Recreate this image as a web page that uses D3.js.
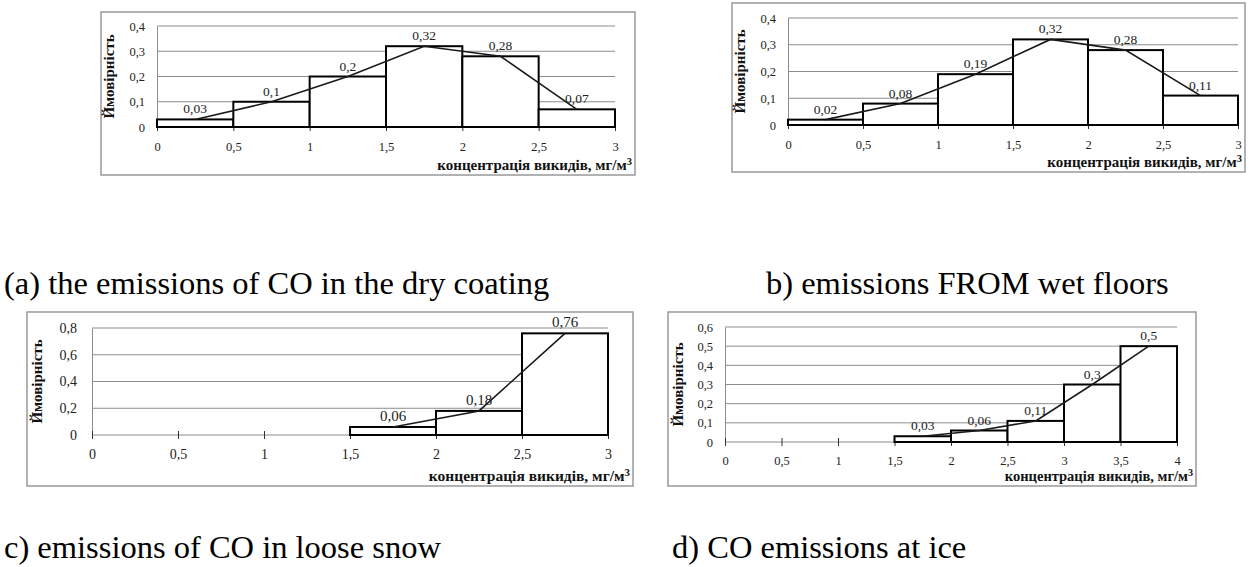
<!DOCTYPE html>
<html>
<head>
<meta charset="utf-8">
<script src="https://cdn.jsdelivr.net/npm/d3@7"></script>
<style>
  body { margin: 0; background: #fff; }
  svg text { font-family: "Liberation Serif", "Times New Roman", "DejaVu Serif", serif; }
</style>
</head>
<body>
<svg id="page" width="1258" height="567"></svg>
<script>

// bin starts (width 0.5) and probabilities
var binsA = [0, 0.5, 1, 1.5, 2, 2.5];
var probA = [0.03, 0.1, 0.2, 0.32, 0.28, 0.07];
var binsB = [0, 0.5, 1, 1.5, 2, 2.5];
var probB = [0.02, 0.08, 0.19, 0.32, 0.28, 0.11];
var binsC = [1.5, 2, 2.5];
var probC = [0.06, 0.18, 0.76];
var binsD = [1.5, 2, 2.5, 3, 3.5];
var probD = [0.03, 0.06, 0.11, 0.3, 0.5];

var xTicks3 = [0, 0.5, 1, 1.5, 2, 2.5, 3];
var xTicks4 = [0, 0.5, 1, 1.5, 2, 2.5, 3, 3.5, 4];
var yTicks04 = [0, 0.1, 0.2, 0.3, 0.4];
var yTicks08 = [0, 0.2, 0.4, 0.6, 0.8];
var yTicks06 = [0, 0.1, 0.2, 0.3, 0.4, 0.5, 0.6];

var captions = [
  "(a) the emissions of CO in the dry coating",
  "b) emissions FROM wet floors",
  "c) emissions of CO in loose snow",
  "d) CO emissions at ice"
];

var binWidth = 0.5;
var yTitle = "Ймовірність";
var xTitle = "концентрація викидів, мг/м";

var svg = d3.select("#page");

function comma(v) { return String(v).replace(".", ","); }

function drawHist(c) {
    var g = svg.append("g");

    // frame
    g.append("rect")
        .attr("x", c.frame[0]).attr("y", c.frame[1])
        .attr("width", c.frame[2] - c.frame[0])
        .attr("height", c.frame[3] - c.frame[1])
        .attr("fill", "none")
        .attr("stroke", "#999")
        .attr("stroke-width", 1.5);

    var xScale = d3.scaleLinear().domain(c.xDomain).range([c.plot[0], c.plot[2]]);
    var yScale = d3.scaleLinear().domain(c.yDomain).range([c.plot[3], c.plot[1]]);

    // grid lines
    g.selectAll(".grid").data(c.yTicks.slice(1)).enter()
        .append("line")
        .attr("x1", c.plot[0]).attr("x2", c.plot[2])
        .attr("y1", function(d){ return yScale(d); })
        .attr("y2", function(d){ return yScale(d); })
        .attr("stroke", "#8c8c8c").attr("stroke-width", 1);

    // axes
    var yAxis = d3.axisLeft(yScale).tickValues(c.yTicks).tickSize(0)
        .tickPadding(c.yPad).tickFormat(comma);
    var ya = g.append("g").attr("transform", "translate(" + c.plot[0] + ",0)").call(yAxis);
    ya.select(".domain").attr("stroke", "#8c8c8c");

    var xAxis = d3.axisBottom(xScale).tickValues(c.xTicks).tickSize(4)
        .tickPadding(c.xPad).tickFormat(comma);
    var xa = g.append("g").attr("transform", "translate(0," + c.plot[3] + ")").call(xAxis);
    xa.select(".domain").attr("stroke", "#8c8c8c").attr("d",
        "M" + c.plot[0] + ",0H" + c.plot[2]);
    xa.selectAll(".tick line").attr("y1", -4).attr("stroke", "#333");

    ya.attr("font-family", null);
    xa.attr("font-family", null);
    g.selectAll(".tick text")
        .attr("font-size", c.tickSize)
        .attr("fill", "#222");

    // bars
    g.selectAll(".bar").data(c.probs).enter()
        .append("rect")
        .attr("x", function(d, i){ return xScale(c.bins[i]); })
        .attr("y", function(d){ return yScale(d); })
        .attr("width", function(d, i){ return xScale(c.bins[i] + binWidth) - xScale(c.bins[i]); })
        .attr("height", function(d){ return yScale(0) - yScale(d); })
        .attr("fill", "#fff")
        .attr("stroke", "#000")
        .attr("stroke-width", 2);

    // polygon through bin midpoints
    var line = d3.line()
        .x(function(d, i){ return xScale(c.bins[i] + binWidth / 2); })
        .y(function(d){ return yScale(d); });
    g.append("path")
        .datum(c.probs)
        .attr("d", line)
        .attr("fill", "none")
        .attr("stroke", "#1a1a1a")
        .attr("stroke-width", 1.6);

    // data labels
    g.selectAll(".lbl").data(c.probs).enter()
        .append("text")
        .attr("x", function(d, i){ return xScale(c.bins[i] + binWidth / 2); })
        .attr("y", function(d){ return yScale(d) - 6; })
        .attr("text-anchor", "middle")
        .attr("font-size", c.tickSize + 1)
        .attr("fill", "#222")
        .text(comma);

    // y title
    var ym = (c.plot[1] + c.plot[3]) / 2;
    g.append("text")
        .attr("transform", "translate(" + (c.frame[0] + c.yTitleDx) + "," + ym + ") rotate(-90)")
        .attr("text-anchor", "middle")
        .attr("font-weight", "bold")
        .attr("font-size", c.yTitleSize)
        .attr("fill", "#111")
        .text(yTitle);

    // x title
    var xt = g.append("text")
        .attr("x", c.frame[2] - 3)
        .attr("y", c.frame[3] - 5)
        .attr("text-anchor", "end")
        .attr("font-weight", "bold")
        .attr("font-size", c.titleSize)
        .attr("fill", "#111");
    xt.append("tspan").text(xTitle);
    xt.append("tspan").attr("dy", -5).attr("font-size", c.titleSize * 0.7).text("3");
}

drawHist({
    frame: [101, 12, 635, 175], plot: [157, 26, 615, 127],
    xDomain: [0, 3], yDomain: [0, 0.4], xTicks: xTicks3, yTicks: yTicks04,
    bins: binsA, probs: probA, tickSize: 12.5, titleSize: 15, yTitleSize: 15,
    yPad: 12, xPad: 11, yTitleDx: 13
});
drawHist({
    frame: [732, 3, 1245, 172], plot: [788, 18, 1238, 125],
    xDomain: [0, 3], yDomain: [0, 0.4], xTicks: xTicks3, yTicks: yTicks04,
    bins: binsB, probs: probB, tickSize: 12.5, titleSize: 15, yTitleSize: 15,
    yPad: 12, xPad: 11, yTitleDx: 13
});
drawHist({
    frame: [27, 312, 633, 486], plot: [92, 328, 608, 435],
    xDomain: [0, 3], yDomain: [0, 0.8], xTicks: xTicks3, yTicks: yTicks08,
    bins: binsC, probs: probC, tickSize: 14, titleSize: 15.5, yTitleSize: 15,
    yPad: 15, xPad: 10, yTitleDx: 15
});
drawHist({
    frame: [668, 312, 1196, 486], plot: [725, 327, 1177, 442],
    xDomain: [0, 4], yDomain: [0, 0.6], xTicks: xTicks4, yTicks: yTicks06,
    bins: binsD, probs: probD, tickSize: 12.5, titleSize: 14.5, yTitleSize: 15,
    yPad: 12, xPad: 10, yTitleDx: 15
});

// captions
var capPos = [[4, 294], [766, 294], [4, 558], [672, 558]];
svg.selectAll(".cap").data(captions).enter()
    .append("text")
    .attr("x", function(d, i){ return capPos[i][0]; })
    .attr("y", function(d, i){ return capPos[i][1]; })
    .attr("font-size", 32.5)
    .attr("fill", "#000")
    .text(function(d){ return d; });

</script>
</body>
</html>
